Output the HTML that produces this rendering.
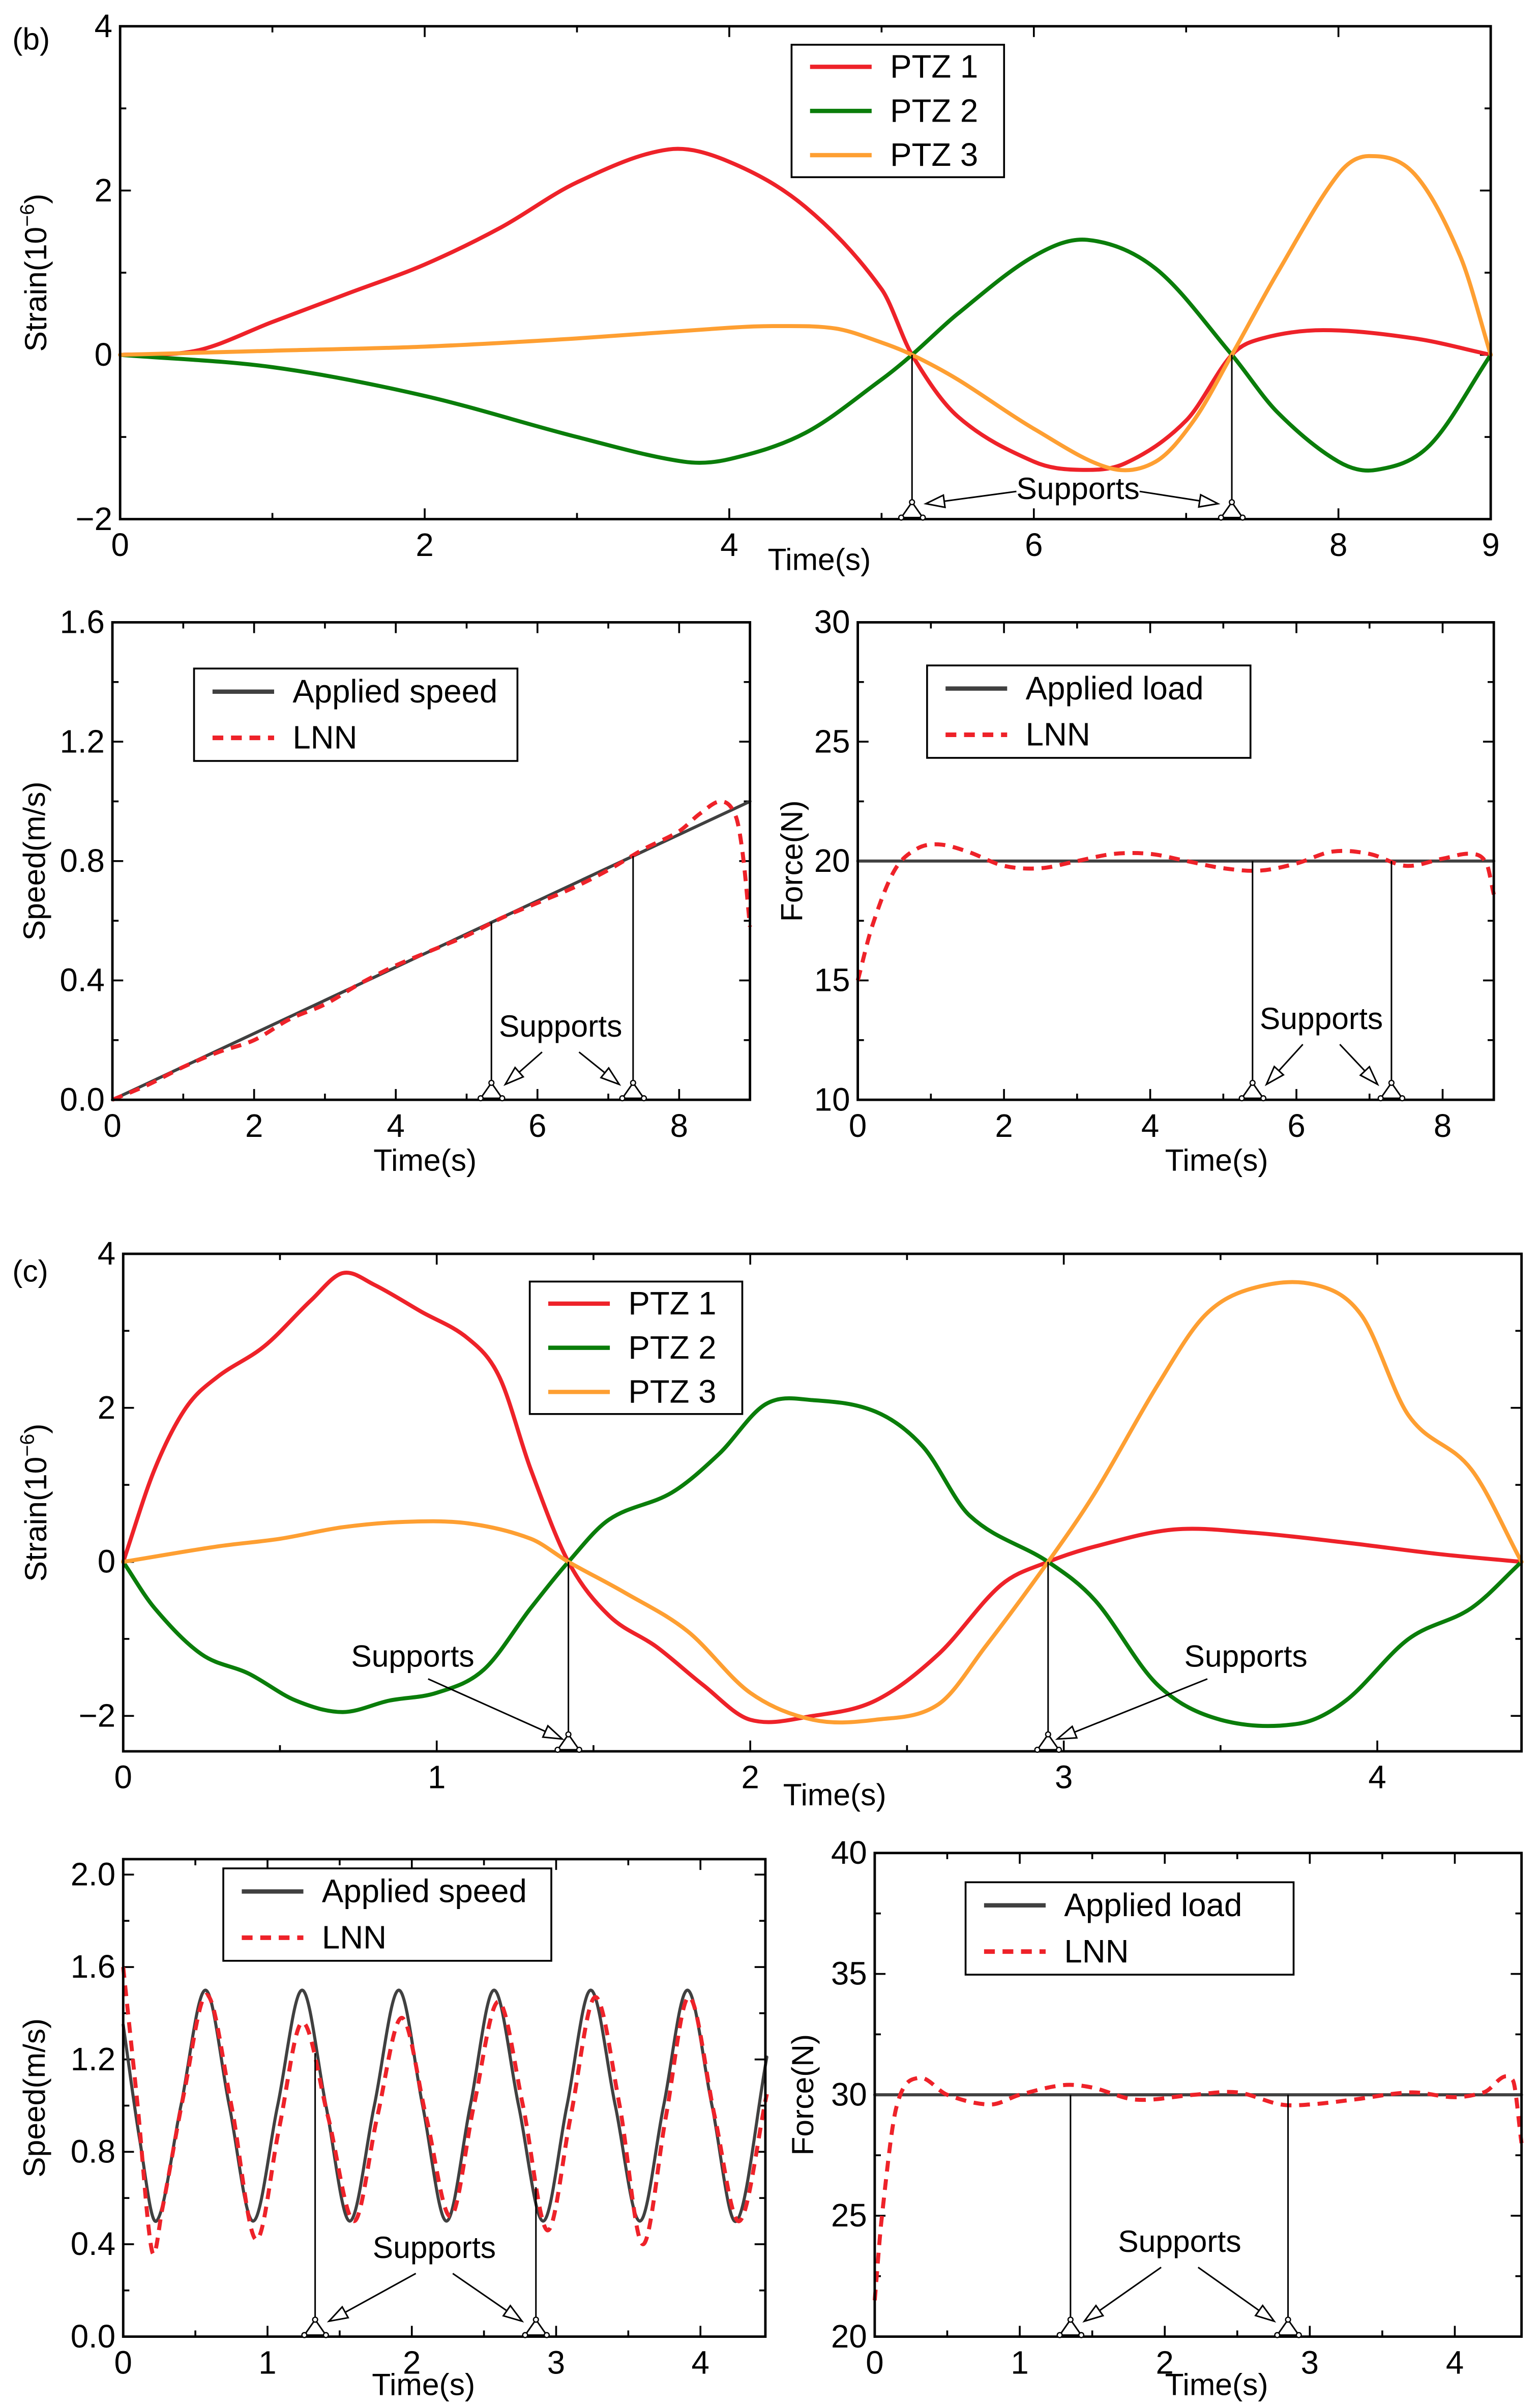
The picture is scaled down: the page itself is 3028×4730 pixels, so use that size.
<!DOCTYPE html>
<html><head><meta charset="utf-8">
<style>
html,body{margin:0;padding:0;background:#fff;}
svg{display:block;}
text{font-family:"Liberation Sans Narrow","Liberation Sans",sans-serif;fill:#000;}
</style></head>
<body>
<svg id="fig" xmlns="http://www.w3.org/2000/svg" width="3028" height="4730" viewBox="0 0 1000 1562">
<rect x="0" y="0" width="1000" height="1562" fill="#fff"/>
</svg>
<script>
// ---------- data ----------
// Panel (b) strain
const bStrainT1 = [0,0.5,1,1.5,2,2.5,3,3.6,4,4.5,5,5.2,5.5,6,6.3,6.6,7,7.3,7.5,7.9,8.5,9];
const bStrainPTZ1 = [0,0.05,0.4,0.75,1.1,1.55,2.1,2.5,2.35,1.8,0.8,0,-0.75,-1.3,-1.4,-1.32,-0.8,0,0.2,0.3,0.2,0];
const bStrainT2 = [0,1,2,3,3.7,4,4.5,5,5.2,5.5,6,6.35,6.8,7.3,7.6,8,8.25,8.6,9];
const bStrainPTZ2 = [0,-0.15,-0.5,-1.0,-1.3,-1.27,-0.95,-0.3,0,0.5,1.2,1.4,1.05,0,-0.7,-1.3,-1.4,-1.1,0];
const bStrainT3 = [0,1,2,3,4,4.3,4.7,5,5.2,5.5,6,6.5,6.8,7.05,7.3,7.6,8,8.2,8.5,8.8,9];
const bStrainPTZ3 = [0,0.05,0.1,0.2,0.33,0.35,0.32,0.15,0,-0.3,-0.9,-1.38,-1.3,-0.8,0,1.0,2.2,2.42,2.2,1.2,0];
const bStrainSupports = [5.2,7.3];
// Panel (b) speed
const bSpeedAppliedT = [0,9];
const bSpeedApplied = [0,1.0];
const bSpeedLNNT = [0,0.5,1,1.5,2,2.5,3,3.5,4,4.5,5,5.5,6,6.5,7,7.5,8,8.3,8.6,8.8,8.9,9];
const bSpeedLNN = [0,0.05,0.11,0.16,0.2,0.27,0.32,0.39,0.45,0.5,0.55,0.61,0.66,0.71,0.77,0.84,0.9,0.96,1.0,0.95,0.82,0.58];
const bSpeedSupports = [5.35,7.35];
// Panel (b) force
const bForceAppliedT = [0,8.7];
const bForceApplied = [20,20];
const bForceLNNT = [0,0.2,0.5,0.8,1.1,1.5,2,2.5,3,3.5,4,4.5,5,5.5,6,6.5,7,7.5,8,8.4,8.6,8.7];
const bForceLNN = [15,17.3,19.6,20.5,20.7,20.4,19.8,19.7,20.0,20.3,20.3,20.0,19.7,19.6,19.9,20.4,20.3,19.8,20.1,20.3,19.9,18.6];
const bForceSupports = [5.4,7.3];
// Panel (c) strain
const cStrainT1 = [0,0.1,0.2,0.3,0.45,0.6,0.7,0.8,0.95,1.1,1.2,1.3,1.42,1.55,1.7,1.85,2.0,2.2,2.4,2.6,2.8,2.95,3.1,3.35,3.6,3.9,4.2,4.46];
const cStrainPTZ1 = [0,1.2,2.0,2.4,2.8,3.4,3.75,3.6,3.25,2.9,2.4,1.2,0,-0.7,-1.1,-1.6,-2.05,-2.0,-1.8,-1.2,-0.3,0,0.2,0.42,0.38,0.25,0.1,0];
const cStrainT2 = [0,0.1,0.25,0.4,0.55,0.7,0.85,1.0,1.15,1.3,1.42,1.55,1.75,1.9,2.05,2.2,2.4,2.55,2.7,2.95,3.1,3.3,3.5,3.75,3.9,4.1,4.3,4.46];
const cStrainPTZ2 = [0,-0.6,-1.2,-1.45,-1.8,-1.95,-1.8,-1.7,-1.4,-0.6,0,0.55,0.9,1.4,2.05,2.1,1.95,1.5,0.6,0,-0.5,-1.6,-2.05,-2.1,-1.8,-1.0,-0.6,0];
const cStrainT3 = [0,0.3,0.5,0.7,0.9,1.1,1.3,1.42,1.6,1.8,2.0,2.2,2.4,2.6,2.75,2.95,3.1,3.3,3.45,3.6,3.8,3.95,4.1,4.3,4.46];
const cStrainPTZ3 = [0,0.2,0.3,0.45,0.52,0.5,0.3,0,-0.4,-0.9,-1.7,-2.05,-2.05,-1.85,-1.1,0,0.9,2.3,3.2,3.55,3.6,3.2,1.9,1.2,0];
const cStrainSupports = [1.42,2.95];
// Panel (c) speed
const cSpeedAppliedT = [0,0.115,0.23,0.4,0.57,0.735,0.90,1.07,1.24,1.405,1.57,1.74,1.91,2.075,2.24,2.405,2.57,2.74,2.91,3.075,3.24,3.41,3.58,3.745,3.91,4.08,4.25,4.46];
const cSpeedApplied = [1.35,0.85,0.5,1.0,1.5,1.0,0.5,1.0,1.5,1.0,0.5,1.0,1.5,1.0,0.5,1.0,1.5,1.0,0.5,1.0,1.5,1.0,0.5,1.0,1.5,1.0,0.5,1.21];
const cSpeedLNNT = [0,0.1,0.2,0.27,0.42,0.58,0.75,0.92,1.08,1.24,1.42,1.6,1.76,1.93,2.1,2.27,2.43,2.6,2.77,2.94,3.1,3.27,3.44,3.6,3.76,3.92,4.1,4.27,4.46];
const cSpeedLNN = [1.6,1.0,0.37,0.55,1.05,1.48,1.0,0.42,0.9,1.36,0.95,0.5,0.95,1.38,0.95,0.52,1.0,1.45,1.0,0.46,0.95,1.47,1.0,0.4,0.95,1.47,0.95,0.5,1.05];
const cSpeedSupports = [1.33,2.86];
// Panel (c) force
const cForceAppliedT = [0,4.46];
const cForceApplied = [30,30];
const cForceLNNT = [0,0.05,0.15,0.3,0.5,0.8,1.0,1.3,1.5,1.8,2.2,2.5,2.8,3.0,3.3,3.7,4.0,4.2,4.4,4.46];
const cForceLNN = [21.5,25,29.5,30.7,30.0,29.6,30.0,30.4,30.3,29.8,30.0,30.1,29.6,29.6,29.8,30.1,29.9,30.1,30.6,28.0];
const cForceSupports = [1.35,2.85];
// tick labels
const bStrainXTicks = [0,2,4,6,8,9];
const bStrainYTicks = [-2,0,2,4];
const bSpeedXTicks = [0,2,4,6,8];
const bSpeedYTicks = [0.0,0.4,0.8,1.2,1.6];
const bForceXTicks = [0,2,4,6,8];
const bForceYTicks = [10,15,20,25,30];
const cStrainXTicks = [0,1,2,3,4];
const cStrainYTicks = [-2,0,2,4];
const cSpeedXTicks = [0,1,2,3,4];
const cSpeedYTicks = [0.0,0.4,0.8,1.2,1.6,2.0];
const cForceXTicks = [0,1,2,3,4];
const cForceYTicks = [20,25,30,35,40];

// ---------- helpers ----------
const NS = "http://www.w3.org/2000/svg";
const svg = document.getElementById('fig');
function mk(tag, attrs, parent){
  const e = document.createElementNS(NS, tag);
  for (const k in attrs) e.setAttribute(k, attrs[k]);
  (parent||svg).appendChild(e);
  return e;
}
// Hermite spline with x-aware tangents (x monotone)
function smoothPath(pts){
  const n = pts.length;
  const m = [];
  for (let i=0;i<n;i++){
    const a = pts[Math.max(0,i-1)], b = pts[Math.min(n-1,i+1)];
    m.push((b[1]-a[1])/(b[0]-a[0]));
  }
  let d = "M"+pts[0][0].toFixed(2)+","+pts[0][1].toFixed(2);
  for (let i=0;i<n-1;i++){
    const p1=pts[i], p2=pts[i+1], h=(p2[0]-p1[0])/3;
    d += " C"+(p1[0]+h).toFixed(2)+","+(p1[1]+m[i]*h).toFixed(2)+" "+(p2[0]-h).toFixed(2)+","+(p2[1]-m[i+1]*h).toFixed(2)+" "+p2[0].toFixed(2)+","+p2[1].toFixed(2);
  }
  return d;
}
function makeAxes(o){
  const g = mk('g', {});
  
  
  const X = v => o.x0 + (v - o.xmin)/(o.xmax - o.xmin)*(o.x1 - o.x0);
  const Y = v => o.y1 - (v - o.ymin)/(o.ymax - o.ymin)*(o.y1 - o.y0);
  o.X = X; o.Y = Y; o.g = g;
  const tl = 7, ml = 4;
  o.xTicks.forEach(v => {
    const x = X(v);
    if (x > o.x0+1 && x < o.x1-1){
      mk('line',{x1:x,y1:o.y1,x2:x,y2:o.y1-tl,stroke:'#000','stroke-width':1.2},g);
      mk('line',{x1:x,y1:o.y0,x2:x,y2:o.y0+tl,stroke:'#000','stroke-width':1.2},g);
    }
    const t = mk('text',{x:x,y:o.y1+24,'text-anchor':'middle','font-size':21},g);
    
    
    t.textContent = String(v);
  });
  o.xMinor.forEach(v => {
    const x = X(v);
    mk('line',{x1:x,y1:o.y1,x2:x,y2:o.y1-ml,stroke:'#000','stroke-width':1.2},g);
    mk('line',{x1:x,y1:o.y0,x2:x,y2:o.y0+ml,stroke:'#000','stroke-width':1.2},g);
  });
  o.yTicks.forEach(v => {
    const y = Y(v);
    if (y > o.y0+1 && y < o.y1-1){
      mk('line',{x1:o.x0,y1:y,x2:o.x0+tl,y2:y,stroke:'#000','stroke-width':1.2},g);
      mk('line',{x1:o.x1,y1:y,x2:o.x1-tl,y2:y,stroke:'#000','stroke-width':1.2},g);
    }
    const t = mk('text',{x:o.x0-5,y:y+7,'text-anchor':'end','font-size':21},g);
    
    
    t.textContent = (v<0?'\u2212'+Math.abs(v):(o.yFmt?v.toFixed(1):String(v)));
  });
  o.yMinor.forEach(v => {
    const y = Y(v);
    mk('line',{x1:o.x0,y1:y,x2:o.x0+ml,y2:y,stroke:'#000','stroke-width':1.2},g);
    mk('line',{x1:o.x1,y1:y,x2:o.x1-ml,y2:y,stroke:'#000','stroke-width':1.2},g);
  });
  const xl = mk('text',{x:o.xlx,y:o.xly,'text-anchor':'middle','font-size':20},g);
  
  
  xl.textContent = 'Time(s)';
  const yl = mk('text',{x:0,y:0,'text-anchor':'middle','font-size':20,transform:`translate(${o.ylx},${(o.y0+o.y1)/2}) rotate(-90)`},g);
  
  
  if (o.ylabelSup){
    yl.textContent = 'Strain(10';
    const ts = mk('tspan',{'font-size':13,dy:-8},yl); ts.textContent='\u22126';
    const ts2 = mk('tspan',{dy:8},yl); ts2.textContent=')';
  } else yl.textContent = o.ylabel;
  return o;
}
function drawBox(o){
  const r = mk('rect',{x:o.x0,y:o.y0,width:o.x1-o.x0,height:o.y1-o.y0,fill:'none',stroke:'#000','stroke-width':1.6},o.g);
  
  
}
function series(o, ts, vs, color, name, dashed, width){
  const pts = ts.map((t,i)=>[o.X(t), o.Y(vs[i])]);
  const p = mk('path',{d: ts.length>2?smoothPath(pts):("M"+pts[0].join(",")+" L"+pts[1].join(",")),fill:'none',stroke:color,'stroke-width':width||2.6,'stroke-linejoin':'round','stroke-linecap':dashed?'butt':'round'},o.g);
  if (dashed) p.setAttribute('stroke-dasharray','7,5');
  
  
}
function interp(ts, vs, t){
  for (let i=0;i<ts.length-1;i++) if (t>=ts[i] && t<=ts[i+1]) return vs[i]+(vs[i+1]-vs[i])*(t-ts[i])/(ts[i+1]-ts[i]);
  return vs[vs.length-1];
}
function supportGlyph(o, x, name){
  const y = o.y1;
  const g = mk('g',{},o.g);
  
  
  mk('path',{d:`M${x},${y-11} L${x-7},${y-1} L${x+7},${y-1} Z`,fill:'#fff',stroke:'#000','stroke-width':1},g);
  [[x,y-11],[x-7,y-1],[x+7,y-1]].forEach(p=>mk('circle',{cx:p[0],cy:p[1],r:1.6,fill:'#fff',stroke:'#000','stroke-width':0.8},g));
  return [x,y-6];
}
function supports(o, sts, fromTs, fromVs, labelX, labelY, mode){
  const tips = [];
  sts.forEach((s,i)=>{
    const x = o.X(s);
    const yTop = o.Y(interp(fromTs, fromVs, s));
    const l = mk('line',{x1:x,y1:yTop,x2:x,y2:o.y1-11,stroke:'#000','stroke-width':1},o.g);
    
    
    tips.push(supportGlyph(o, x, 'support-'+(i+1)));
  });
  const t = mk('text',{x:labelX,y:labelY,'text-anchor':'middle','font-size':20},o.g);
  
  
  t.textContent = 'Supports';
  tips.forEach((tp,i)=>{
    let sx, sy;
    if (mode==='side'){ sx = labelX + (i===0?-40:40); sy = labelY-5; }
    else { sx = labelX + (i===0?-12:12); sy = labelY+10; }
    const ex = tp[0] + (i===0?9:-9), ey = tp[1]-4;
    arrow(o.g, sx, sy, ex, ey);
  });
}
function arrow(g, sx, sy, ex, ey){
  const a = mk('g',{},g);
  
  
  const ang = Math.atan2(ey-sy, ex-sx), L=12, W=4;
  const bx = ex - L*Math.cos(ang), by = ey - L*Math.sin(ang);
  mk('line',{x1:sx,y1:sy,x2:bx,y2:by,stroke:'#000','stroke-width':1},a);
  const px = -Math.sin(ang)*W, py = Math.cos(ang)*W;
  mk('path',{d:`M${ex},${ey} L${bx+px},${by+py} L${bx-px},${by-py} Z`,fill:'#fff',stroke:'#000','stroke-width':1},a);
}
function legend(o, x, y, w, h, items){
  const g = mk('g',{},o.g);
  
  
  mk('rect',{x:x,y:y,width:w,height:h,fill:'#fff',stroke:'#000','stroke-width':1.2},g);
  const step = h/items.length;
  items.forEach((it,i)=>{
    const e = mk('g',{},g);
    
    
    const cy = y + step*(i+0.5);
    const ln = mk('line',{x1:x+12,y1:cy,x2:x+52,y2:cy,stroke:it.c,'stroke-width':it.dash?3:2.8},e);
    if (it.dash) ln.setAttribute('stroke-dasharray','7,5');
    const t = mk('text',{x:x+64,y:cy+7,'font-size':21},e);
    t.textContent = it.t;
  });
}
const RED='#ee2229', GREEN='#0a7d0a', ORANGE='#fe9f32', GRAY='#404040';

let pl = mk('text',{x:8,y:32,'font-size':20}); pl.textContent='(b)';
 
pl = mk('text',{x:8,y:832,'font-size':20}); pl.textContent='(c)';
 

// ---- b strain ----
let A = makeAxes({name:'chart-b-strain',x0:78,x1:968,y0:17,y1:337,xmin:0,xmax:9,ymin:-2,ymax:4,
  xTicks:bStrainXTicks,xMinor:[1,3,5,7],yTicks:bStrainYTicks,yMinor:[-1,1,3],xlx:532,xly:370,ylx:30,ylabelSup:true});
series(A,bStrainT1,bStrainPTZ1,RED,'line-ptz1');
series(A,bStrainT2,bStrainPTZ2,GREEN,'line-ptz2');
series(A,bStrainT3,bStrainPTZ3,ORANGE,'line-ptz3');
drawBox(A);
supports(A,bStrainSupports,[0,9],[0,0],700,324,'side');
legend(A,514,29,138,86,[{t:'PTZ 1',c:RED},{t:'PTZ 2',c:GREEN},{t:'PTZ 3',c:ORANGE}]);

// ---- b speed ----
A = makeAxes({name:'chart-b-speed',x0:73,x1:487,y0:404,y1:714,xmin:0,xmax:9,ymin:0,ymax:1.6,
  xTicks:bSpeedXTicks,xMinor:[1,3,5,7],yTicks:bSpeedYTicks,yMinor:[0.2,0.6,1.0,1.4],yFmt:true,xlx:276,xly:760,ylx:29,ylabel:'Speed(m/s)'});
series(A,bSpeedAppliedT,bSpeedApplied,GRAY,'line-applied-speed',false,2);
series(A,bSpeedLNNT,bSpeedLNN,RED,'line-lnn-speed',true,2.6);
drawBox(A);
supports(A,bSpeedSupports,bSpeedAppliedT,bSpeedApplied,364,673,'down');
legend(A,126,434,210,60,[{t:'Applied speed',c:GRAY},{t:'LNN',c:RED,dash:true}]);

// ---- b force ----
A = makeAxes({name:'chart-b-force',x0:557,x1:970,y0:404,y1:714,xmin:0,xmax:8.7,ymin:10,ymax:30,
  xTicks:bForceXTicks,xMinor:[1,3,5,7],yTicks:bForceYTicks,yMinor:[12.5,17.5,22.5,27.5],xlx:790,xly:760,ylx:521,ylabel:'Force(N)'});
series(A,bForceAppliedT,bForceApplied,GRAY,'line-applied-load',false,2);
series(A,bForceLNNT,bForceLNN,RED,'line-lnn-force',true,2.6);
drawBox(A);
supports(A,bForceSupports,bForceAppliedT,bForceApplied,858,668,'down');
legend(A,602,432,210,60,[{t:'Applied load',c:GRAY},{t:'LNN',c:RED,dash:true}]);

// ---- c strain ----
A = makeAxes({name:'chart-c-strain',x0:80,x1:988,y0:814,y1:1137,xmin:0,xmax:4.46,ymin:-2.46,ymax:4,
  xTicks:cStrainXTicks,xMinor:[0.5,1.5,2.5,3.5],yTicks:cStrainYTicks,yMinor:[-1,1,3],xlx:542,xly:1172,ylx:30,ylabelSup:true});
series(A,cStrainT1,cStrainPTZ1,RED,'line-ptz1');
series(A,cStrainT2,cStrainPTZ2,GREEN,'line-ptz2');
series(A,cStrainT3,cStrainPTZ3,ORANGE,'line-ptz3');
drawBox(A);
(function(){
  const o=A;
  cStrainSupports.forEach((s,i)=>{
    const x=o.X(s);
    const l=mk('line',{x1:x,y1:o.Y(0),x2:x,y2:o.y1-11,stroke:'#000','stroke-width':1},o.g);
    
    
    const tp=supportGlyph(o,x,'support-'+(i+1));
    const lx = i===0?268:809;
    const t=mk('text',{x:lx,y:1082,'text-anchor':'middle','font-size':20},o.g);
    
    
    t.textContent='Supports';
    if(i===0) arrow(o.g,lx+10,1090,tp[0]-4,tp[1]-2); else arrow(o.g,lx-25,1090,tp[0]+6,tp[1]-2);
  });
})();
legend(A,344,832,138,86,[{t:'PTZ 1',c:RED},{t:'PTZ 2',c:GREEN},{t:'PTZ 3',c:ORANGE}]);

// ---- c speed ----
A = makeAxes({name:'chart-c-speed',x0:80,x1:497,y0:1207,y1:1517,xmin:0,xmax:4.45,ymin:0,ymax:2.067,
  xTicks:cSpeedXTicks,xMinor:[0.5,1.5,2.5,3.5],yTicks:cSpeedYTicks,yMinor:[0.2,0.6,1.0,1.4,1.8],yFmt:true,xlx:275,xly:1555,ylx:29,ylabel:'Speed(m/s)'});
series(A,cSpeedAppliedT,cSpeedApplied,GRAY,'line-applied-speed',false,2);
series(A,cSpeedLNNT,cSpeedLNN,RED,'line-lnn-speed',true,2.6);
drawBox(A);
supports(A,cSpeedSupports,cSpeedAppliedT,cSpeedApplied,282,1466,'down');
legend(A,145,1213,213,60,[{t:'Applied speed',c:GRAY},{t:'LNN',c:RED,dash:true}]);

// ---- c force ----
A = makeAxes({name:'chart-c-force',x0:568,x1:988,y0:1203,y1:1517,xmin:0,xmax:4.46,ymin:20,ymax:40,
  xTicks:cForceXTicks,xMinor:[0.5,1.5,2.5,3.5],yTicks:cForceYTicks,yMinor:[22.5,27.5,32.5,37.5],xlx:790,xly:1555,ylx:528,ylabel:'Force(N)'});
series(A,cForceAppliedT,cForceApplied,GRAY,'line-applied-load',false,2);
series(A,cForceLNNT,cForceLNN,RED,'line-lnn-force',true,2.6);
drawBox(A);
supports(A,cForceSupports,cForceAppliedT,cForceApplied,766,1462,'down');
legend(A,627,1222,213,60,[{t:'Applied load',c:GRAY},{t:'LNN',c:RED,dash:true}]);
</script>
</body></html>
